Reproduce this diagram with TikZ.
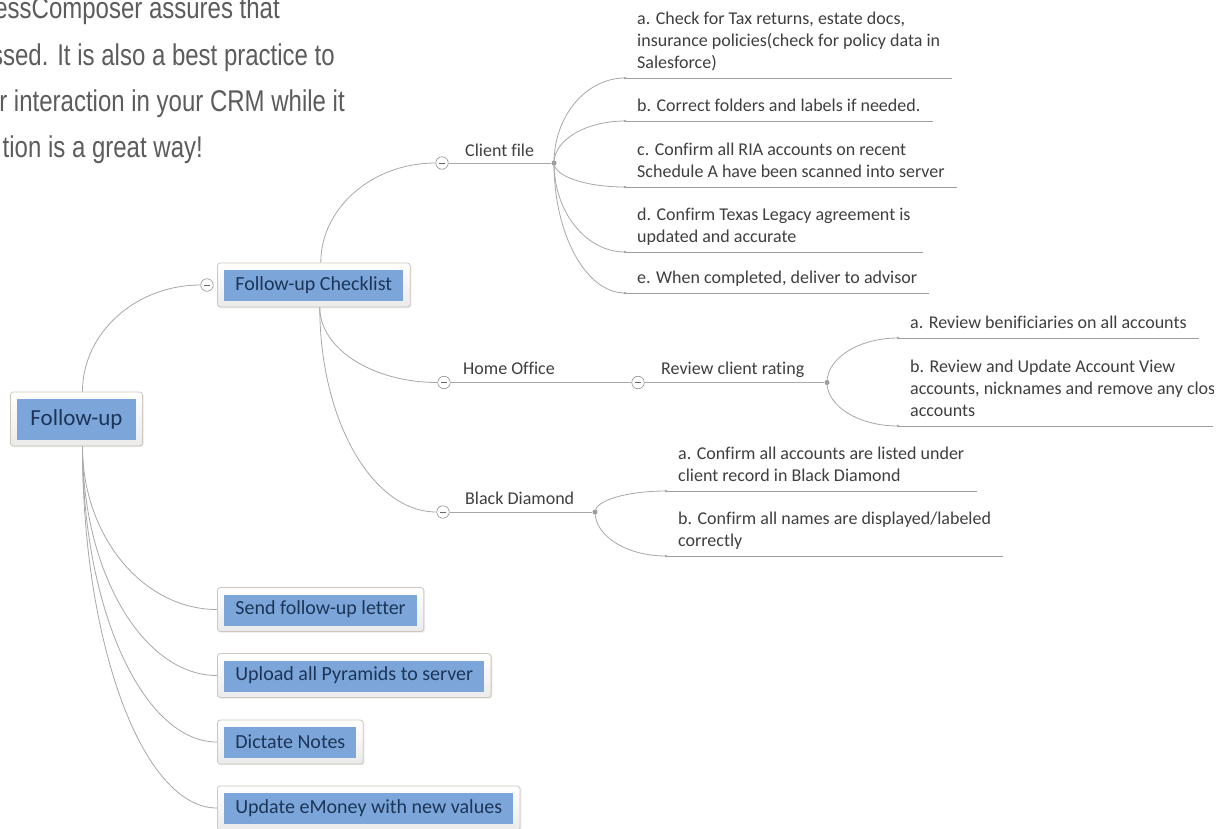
\documentclass[tikz,border=0pt]{standalone}
\usepackage{fontspec}
\setmainfont{Carlito}[Ligatures=CommonOff]
\newfontfamily\introfont[FakeStretch=0.8]{Liberation Sans}
\usetikzlibrary{positioning}
\usetikzlibrary{calc}
\usetikzlibrary{shadows}

\definecolor{topicblue}{HTML}{7CA6DA}
\definecolor{topictext}{HTML}{1C3557}
\definecolor{framegray}{HTML}{CFC7BD}
\definecolor{linkgray}{HTML}{A8A8A8}
\definecolor{itemtext}{HTML}{3F3F3F}
\definecolor{introgray}{HTML}{5C5C5C}

% rounded elbow from #1 (leaves vertically) to #2 (arrives horizontally)
\newcommand{\mmlink}[2]{\draw[conn] (#1) .. controls ($(#1)!.55!(#1 |- #2)$) and ($(#2)!.55!(#1 |- #2)$) .. (#2);}

\begin{document}
\begin{tikzpicture}[x=1pt, y=-1pt,
    topic/.style={rectangle, rounded corners=3pt, draw=framegray, line width=.8pt,
        top color=white, bottom color=black!8, minimum height=44pt, inner xsep=18pt,
        font=\fontsize{20}{24}\selectfont, text=topictext, anchor=west,
        drop shadow={shadow xshift=1.2pt, shadow yshift=-1.2pt, opacity=.18},
        path picture={\fill[topicblue, sharp corners] ([shift={(7pt,-7pt)}]path picture bounding box.north west)
            rectangle ([shift={(-7pt,6pt)}]path picture bounding box.south east);}},
    rootbox/.style={topic, minimum height=54pt, inner xsep=20pt, font=\fontsize{23}{27}\selectfont},
    button/.style={circle, draw=black!45, fill=white, line width=.6pt, minimum size=12.5pt, inner sep=0pt,
        path picture={\draw[black!60, line width=.8pt] ([xshift=-3pt]path picture bounding box.center)
            -- ([xshift=3pt]path picture bounding box.center);}},
    hub/.style={circle, fill=black!40, minimum size=5pt, inner sep=0pt},
    conn/.style={draw=linkgray, line width=.8pt},
    rule/.style={draw=black!38, line width=.9pt},
    subname/.style={font=\fontsize{18}{22}\selectfont, text=itemtext, inner sep=0pt, anchor=base west},
    item/.style={font=\fontsize{18}{22}\selectfont, text=itemtext, align=left, inner xsep=12pt,
        inner ysep=9pt, text depth=0pt, anchor=south west},
    intro/.style={font=\introfont\fontsize{30}{36}\selectfont, text=introgray, inner sep=0pt, anchor=base east}]

    \useasboundingbox (0,0) rectangle (1230,828);
    \fill[white] (0,0) rectangle (1230,828);
    \clip (0,0) rectangle (1213,828);

    % text left over from the page
    \node[intro] (intro1) at (280,18) {cessComposer assures that};
    \node[intro] (intro2) at (335,65) {ssed. It is also a best practice to};
    \node[intro] (intro3) at (345,111) {r interaction in your CRM while it};
    \node[intro] (intro4) at (203,157) {tion is a great way!};

    % main topics
    \node[rootbox] (root) at (10,419) {Follow-up};
    \node[topic] (check) at (217,285) {Follow-up Checklist};
    \node[topic] (letter) at (217,609.5) {Send follow-up letter};
    \node[topic] (pyramids) at (217,675.5) {Upload all Pyramids to server};
    \node[topic] (notes) at (217,742) {Dictate Notes};
    \node[topic] (emoney) at (217,808) {Update eMoney with new values};

    % collapse buttons and hubs
    \node[button] (check-btn) at (207,285) {};
    \node[button] (cf-btn) at (442,163) {};
    \node[button] (ho-btn) at (444,382.5) {};
    \node[button] (rc-btn) at (638,382.5) {};
    \node[button] (bd-btn) at (443,512) {};
    \node[hub] (cf-hub) at (554,163) {};
    \node[hub] (rc-hub) at (827,382.5) {};
    \node[hub] (bd-hub) at (595,512) {};

    % subtopics
    \node[subname] (cf) at (465,156) {Client file};
    \node[subname] (ho) at (463,374) {Home Office};
    \node[subname] (rc) at (661,374) {Review client rating};
    \node[subname] (bd) at (465,504) {Black Diamond};

    \node[item] (cf-a) at (625,78) {a. Check for Tax returns, estate docs,\\insurance policies(check for policy data in\\Salesforce)};
    \node[item] (cf-b) at (625,121) {b. Correct folders and labels if needed.};
    \node[item] (cf-c) at (625,187) {c. Confirm all RIA accounts on recent\\Schedule A have been scanned into server};
    \node[item] (cf-d) at (625,252) {d. Confirm Texas Legacy agreement is\\updated and accurate};
    \node[item] (cf-e) at (625,293) {e. When completed, deliver to advisor};
    \node[item] (rc-a) at (898,338) {a. Review benificiaries on all accounts};
    \node[item] (rc-b) at (898,426) {b. Review and Update Account View\\accounts, nicknames and remove any closed\\accounts};
    \node[item] (bd-a) at (666,491) {a. Confirm all accounts are listed under\\client record in Black Diamond};
    \node[item] (bd-b) at (666,556) {b. Confirm all names are displayed/labeled\\correctly};

    % connectors
    \coordinate (root-top) at ([xshift=6pt]root.north);
    \coordinate (root-bot) at ([xshift=6pt]root.south);
    \coordinate (check-top) at ([xshift=7pt]check.north);
    \coordinate (check-bot) at ([xshift=6pt]check.south);

    \mmlink{root-top}{check-btn.west}
    \foreach \t in {letter,pyramids,notes,emoney} {
        \mmlink{root-bot}{\t.west}
    }
    \mmlink{check-top}{cf-btn.west}
    \mmlink{check-bot}{ho-btn.west}
    \mmlink{check-bot}{bd-btn.west}
    \draw[conn] (cf-btn.east) -- (cf-hub);
    \draw[conn] (ho-btn.east) -- (rc-btn.west);
    \draw[conn] (rc-btn.east) -- (rc-hub);
    \draw[conn] (bd-btn.east) -- (bd-hub);

    \foreach \n in {cf-a,cf-b,cf-c,cf-d,cf-e} {
        \mmlink{cf-hub.center}{\n.south west}
    }
    \foreach \n in {rc-a,rc-b} {
        \mmlink{rc-hub.center}{\n.south west}
    }
    \foreach \n in {bd-a,bd-b} {
        \mmlink{bd-hub.center}{\n.south west}
    }

    % underlines of the items
    \foreach \n in {cf-a,cf-b,cf-c,cf-d,cf-e,rc-a,rc-b,bd-a,bd-b} {
        \draw[rule] (\n.south west) -- (\n.south east);
        \fill[black!35] (\n.south west) circle (1.3pt);
    }
\end{tikzpicture}
\end{document}
